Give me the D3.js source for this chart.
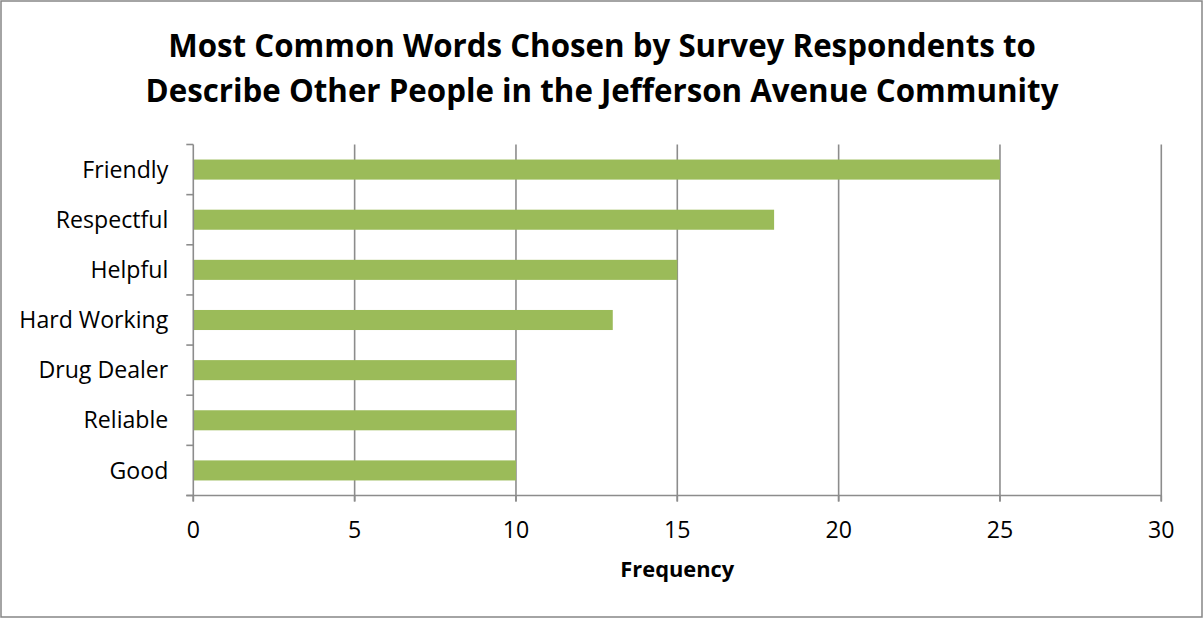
<!DOCTYPE html>
<html><head><meta charset="utf-8">
<script src="https://cdn.jsdelivr.net/npm/d3@7"></script>
<style>html,body{margin:0;padding:0;background:#fff;}svg{display:block;}</style>
</head><body>
<svg id="c" width="1204" height="619"></svg>
<script>
const categories = ["Friendly","Respectful","Helpful","Hard Working","Drug Dealer","Reliable","Good"];
const values = [25,18,15,13,10,10,10];
const xTicks = [0,5,10,15,20,25,30];
const titleLines = ["Most Common Words Chosen by Survey Respondents to","Describe Other People in the Jefferson Avenue Community"];
const xTitle = "Frequency";

const W=1204,H=619;
const FONT = "'Open Sans', Lato, sans-serif";
const svg = d3.select("#c");
svg.append("rect").attr("x",1).attr("y",1).attr("width",W-3).attr("height",H-3)
  .attr("fill","#fff").attr("stroke","#868686").attr("stroke-width",1.5);

function fitSize(text, weight, target, base){
  const t = svg.append("text").attr("font-family",FONT).attr("font-weight",weight).attr("font-size",base).text(text);
  const w = t.node().getComputedTextLength(); t.remove();
  return base*target/w;
}

const L=193.3,R=1161.3,T=144.5,B=495.5;
const x = d3.scaleLinear().domain([0,30]).range([L,R]);
const y = d3.scaleBand().domain(categories).range([T,B]).paddingInner(0.6).paddingOuter(0.3);
const step = y.step();
const gridCol="#8c8c8c";

svg.append("g").selectAll("line").data(xTicks.filter(d=>d>0)).join("line")
  .attr("x1",d=>x(d)).attr("x2",d=>x(d)).attr("y1",T).attr("y2",B+6)
  .attr("stroke",gridCol).attr("stroke-width",1.6);

svg.append("g").selectAll("rect").data(categories).join("rect")
  .attr("x",x(0)).attr("y",d=>y(d)).attr("height",y.bandwidth())
  .attr("width",(d,i)=>x(values[i])-x(0)).attr("fill","#9bbb59");

svg.append("line").attr("x1",L).attr("x2",L).attr("y1",T).attr("y2",B+6).attr("stroke",gridCol).attr("stroke-width",1.6);
const bounds = d3.range(categories.length+1).map(i=>T+i*step);
svg.append("g").selectAll("line").data(bounds).join("line")
  .attr("x1",L-7).attr("x2",L).attr("y1",d=>d).attr("y2",d=>d).attr("stroke",gridCol).attr("stroke-width",1.6);
svg.append("line").attr("x1",L-7).attr("x2",R).attr("y1",B).attr("y2",B).attr("stroke",gridCol).attr("stroke-width",1.6);
svg.append("g").selectAll("line").data(xTicks).join("line")
  .attr("x1",d=>x(d)).attr("x2",d=>x(d)).attr("y1",B).attr("y2",B+6).attr("stroke",gridCol).attr("stroke-width",1.6);

const labSize = fitSize("Hard Working","normal",149,20);
svg.append("g").selectAll("text").data(categories).join("text")
  .attr("x",L-25).attr("y",d=>y(d)+y.bandwidth()/2).attr("dy","0.35em")
  .attr("text-anchor","end").attr("font-family",FONT).attr("font-size",labSize).attr("fill","#000")
  .text(d=>d);

svg.append("g").selectAll("text").data(xTicks).join("text")
  .attr("x",d=>x(d)).attr("y",538).attr("text-anchor","middle")
  .attr("font-family",FONT).attr("font-size",labSize).attr("fill","#000").text(d=>d);

const fSize = fitSize(xTitle,"bold",114,20);
svg.append("text").attr("x",(L+R)/2).attr("y",577).attr("text-anchor","middle")
  .attr("font-family",FONT).attr("font-weight","bold").attr("font-size",fSize).text(xTitle);

const tSize = fitSize(titleLines[0],"bold",868,30);
svg.append("g").selectAll("text").data(titleLines).join("text")
  .attr("x",W/2).attr("y",(d,i)=>57+i*45).attr("text-anchor","middle")
  .attr("font-family",FONT).attr("font-weight","bold").attr("font-size",tSize).text(d=>d);
</script>
</body></html>
